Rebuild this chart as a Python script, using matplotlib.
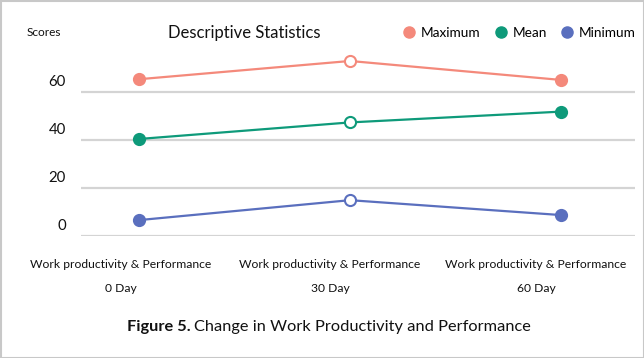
import matplotlib
matplotlib.use("Agg")
import matplotlib.pyplot as plt
from matplotlib.lines import Line2D
from matplotlib.patches import Rectangle
import matplotlib.transforms as mtransforms

plt.rcParams['font.family'] = ['Lato', 'DejaVu Sans']

categories = ["0 Day", "30 Day", "60 Day"]
cat_prefix = "Work productivity & Performance"
maximum = [65.2, 72.8, 64.9]
mean = [40.3, 47.2, 51.7]
minimum = [6.5, 14.8, 8.6]
yticks = [0, 20, 40, 60]
series = [("Maximum", maximum, "#F4897B"),
          ("Mean", mean, "#0E9A7A"),
          ("Minimum", minimum, "#5A6FBE")]

W, H = 644, 358
fig = plt.figure(figsize=(W / 100, H / 100), dpi=100)

def fx(px):
    return px / W

def fy(py):
    return 1 - py / H

y0_px, y60_px = 235.7, 91.7
ppu = (y0_px - y60_px) / 60.0
ymax = 76
ax_bottom = fy(y0_px)
ax_top = fy(y0_px - ppu * ymax)
x_left, x_right = 81, 634.5
ax = fig.add_axes([fx(x_left), ax_bottom, fx(x_right) - fx(x_left), ax_top - ax_bottom])
ax.set_ylim(0, ymax)
px_per_cat = 211
x0_px = 139
ax.set_xlim((x_left - x0_px) / px_per_cat, (x_right - x0_px) / px_per_cat)
for s in ax.spines.values():
    s.set_visible(False)
ax.set_xticks([])
ax.set_yticks([])
ax.patch.set_alpha(0)

for v in yticks:
    ax.axhline(v, color="#D4D4D4", lw=1.6, zorder=1)
    ax.text(-0.027, v, str(v), transform=mtransforms.blended_transform_factory(ax.transAxes, ax.transData)
            + mtransforms.ScaledTranslation(0, 10 / 100, fig.dpi_scale_trans),
            ha="right", va="center", fontsize=10.8, color="#111111")

xs = list(range(len(categories)))
for name, vals, col in series:
    ax.plot(xs, vals, color=col, lw=1.6, zorder=2)
    for i, (x, v) in enumerate(zip(xs, vals)):
        face = "white" if i == 1 else col
        ax.plot([x], [v], marker="o", ms=8, mfc=face, mec=col, mew=1.5, zorder=3, ls="none")

# category labels
label_offsets_px = [-18.5, -20, -25]
for x, c, o in zip(xs, categories, label_offsets_px):
    btf = mtransforms.blended_transform_factory(ax.transData, fig.transFigure) + \
        mtransforms.ScaledTranslation(o / 100, 0, fig.dpi_scale_trans)
    ax.text(x, fy(264.3), cat_prefix, transform=btf, ha="center", va="center",
            fontsize=8.7, color="#111111")
    ax.text(x, fy(288.3), c, transform=btf, ha="center", va="center",
            fontsize=8.7, color="#111111")

# header
fig.text(fx(44), fy(32.7), "Scores", ha="center", va="center", fontsize=8.6, color="#111111")
fig.text(fx(244), fy(32.7), "Descriptive Statistics", ha="center", va="center", fontsize=12, color="#111111")

handles = [Line2D([], [], ls="none", marker="o", ms=8, mfc=c, mec=c, label=n) for n, _, c in series]
fig.legend(handles=handles, loc="center right", bbox_to_anchor=(fx(636), fy(32.7)), ncol=3,
           frameon=False, fontsize=9.8, handletextpad=0.4, columnspacing=0.95, handlelength=1.0,
           borderaxespad=0, borderpad=0)

# caption: bold part followed by normal part
bold = fig.text(fx(127), fy(327.3), "Figure 5.", ha="left", va="center", fontsize=11.8,
                fontweight="bold", color="#111111")
fig.canvas.draw()
bb = bold.get_window_extent(renderer=fig.canvas.get_renderer())
fig.text(bb.x1 / W + 3.5 / W, fy(327.3), "Change in Work Productivity and Performance",
         ha="left", va="center", fontsize=11.8, color="#111111")

# border
fig.patches.append(Rectangle((0.5 / W, 0.5 / H), 1 - 1.0 / W, 1 - 1.0 / H, transform=fig.transFigure,
                             fill=False, ec="#C8C8C8", lw=1.5))

fig.savefig("out.png", dpi=100)
